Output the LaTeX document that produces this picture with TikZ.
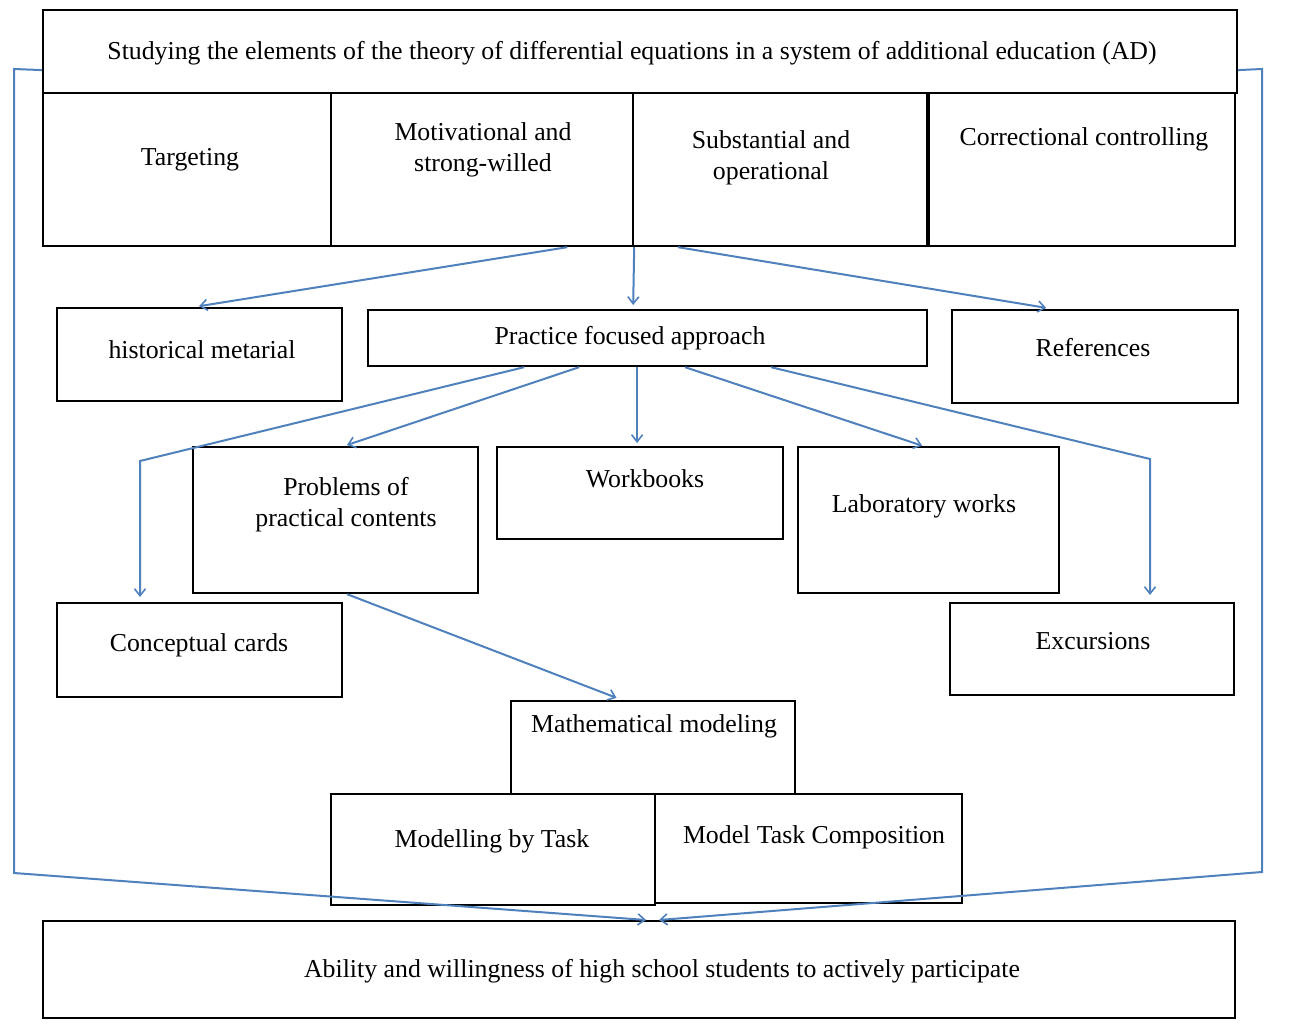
\documentclass[tikz,border=0pt]{standalone}
\usepackage{fontspec}
\setmainfont{Liberation Serif}
\usetikzlibrary{arrows.meta}
\definecolor{lineblue}{RGB}{79,129,189}
\begin{document}
\begin{tikzpicture}[x=1pt,y=-1pt,
  box/.style={draw=black,line width=2.2pt,inner sep=0pt,anchor=north west},
  txt/.style={font=\fontsize{25.8}{31}\selectfont,align=center,inner sep=0pt,yshift=-3pt},
  arr/.style={draw=lineblue,line width=2pt,-{Straight Barb[length=7pt,width=11pt,line width=1.6pt]}},
  ln/.style={draw=lineblue,line width=2pt}]
\path[use as bounding box,fill=white] (0,0) rectangle (1294,1033);
% boxes
\node[box,minimum width=1194pt,minimum height=83pt] (title) at (42,9) {};
\node[box,minimum width=288pt,minimum height=153pt] (targ) at (42,92) {};
\node[box,minimum width=302pt,minimum height=153pt] (motiv) at (330,92) {};
\node[box,minimum width=294pt,minimum height=153pt] (subst) at (632,92) {};
\node[box,minimum width=306pt,minimum height=153pt] (corr) at (928,92) {};
\node[box,minimum width=285pt,minimum height=93pt] (hist) at (56,307) {};
\node[box,minimum width=559pt,minimum height=56pt] (pfa) at (367,309) {};
\node[box,minimum width=286pt,minimum height=93pt] (refs) at (951,309) {};
\node[box,minimum width=285pt,minimum height=146pt] (prob) at (192,446) {};
\node[box,minimum width=286pt,minimum height=92pt] (work) at (496,446) {};
\node[box,minimum width=261pt,minimum height=146pt] (lab) at (797,446) {};
\node[box,minimum width=285pt,minimum height=94pt] (conc) at (56,602) {};
\node[box,minimum width=284pt,minimum height=92pt] (exc) at (949,602) {};
\node[box,minimum width=284pt,minimum height=93pt] (math) at (510,700) {};
\node[box,minimum width=324pt,minimum height=111pt] (mbt) at (330,793) {};
\node[box,minimum width=307pt,minimum height=109pt] (mtc) at (654,793) {};
\node[box,minimum width=1192pt,minimum height=97pt] (abil) at (42,920) {};
% texts
\node[txt] (ttitle) at (632,50) {Studying the elements of the theory of differential equations in a system of additional education (AD)};
\node[txt] (ttarg) at (190,157) {Targeting};
\node[txt] (tmotiv) at (483,147) {Motivational and\\strong-willed};
\node[txt] (tsubst) at (771,155) {Substantial and\\operational};
\node[txt] (tcorr) at (1084,136) {Correctional controlling};
\node[txt] (thist) at (202,347) {historical metarial};
\node[txt] (tpfa) at (630,335) {Practice focused approach};
\node[txt] (trefs) at (1093,345) {References};
\node[txt] (tprob) at (346,502) {Problems of\\practical contents};
\node[txt] (twork) at (645,476) {Workbooks};
\node[txt] (tlab) at (924,503) {Laboratory works};
\node[txt] (tconc) at (199,642) {Conceptual cards};
\node[txt] (texc) at (1093,638) {Excursions};
\node[txt] (tmath) at (654,723) {Mathematical modeling};
\node[txt] (tmbt) at (492,838) {Modelling by Task};
\node[txt] (tmtc) at (814,834) {Model Task Composition};
\node[txt] (tabil) at (662,968) {Ability and willingness of high school students to actively participate};
% connectors from the first row
\draw[arr,shorten >=5pt] ([xshift=-67pt]motiv.south east) -- ([xshift=-5.5pt]hist.north);
\draw[arr,shorten >=4pt] (motiv.south east) -- ([xshift=-14.5pt]pfa.north);
\draw[arr,shorten >=7pt] ([xshift=46pt]subst.south west) -- ([xshift=-42pt]refs.north);
% connectors from the practice focused approach
\coordinate (kc) at (140,461);
\coordinate (ke) at (1150,459);
\draw[arr,shorten >=5pt] ([xshift=-123.5pt]pfa.south) -- (kc) -- (kc |- conc.north);
\draw[arr,shorten >=3pt] ([xshift=-68.5pt]pfa.south) -- ([xshift=8.5pt]prob.north);
\draw[arr,shorten >=3pt] ([xshift=-10.5pt]pfa.south) -- ([xshift=-3pt]work.north);
\draw[arr,shorten >=1pt] ([xshift=37.5pt]pfa.south) -- ([xshift=-5.5pt]lab.north);
\draw[arr,shorten >=7pt] ([xshift=123.5pt]pfa.south) -- (ke) -- (ke |- exc.north);
\draw[arr,shorten >=6pt] ([xshift=11.5pt]prob.south) -- ([xshift=-31pt]math.north);
% side lines to the result
\coordinate (la) at (14,69);
\coordinate (lb) at (14,873);
\coordinate (ra) at (1262,69);
\coordinate (rb) at (1262,872);
\draw[arr] ([yshift=-18.5pt]title.west) -- (la) -- (lb) -- ([xshift=7pt]abil.north);
\draw[arr] ([yshift=-18.5pt]title.east) -- (ra) -- (rb) -- ([xshift=20pt]abil.north);
\end{tikzpicture}
\end{document}
